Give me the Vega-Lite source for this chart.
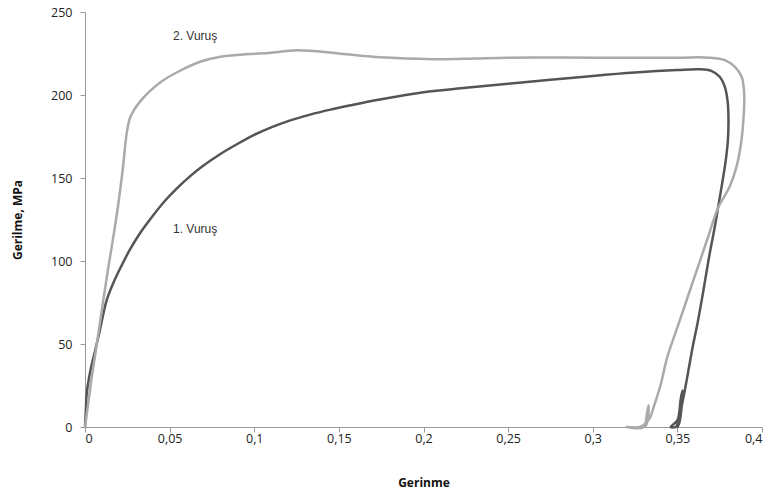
{
  "$schema": "https://vega.github.io/schema/vega-lite/v6.json",
  "width": 677,
  "height": 415,
  "autosize": {"type": "none"},
  "padding": {"left": 85, "top": 12, "right": 14, "bottom": 72},
  "background": "white",
  "config": {"view": {"stroke": null}, "font": "Open Sans"},
  "datasets": {
    "curves": [
      {"s": "1", "i": 1, "x": 0, "y": 0},
      {"s": "1", "i": 2, "x": 0.0005, "y": 10},
      {"s": "1", "i": 3, "x": 0.001, "y": 20},
      {"s": "1", "i": 4, "x": 0.003, "y": 33},
      {"s": "1", "i": 5, "x": 0.006, "y": 46},
      {"s": "1", "i": 6, "x": 0.0085, "y": 57},
      {"s": "1", "i": 7, "x": 0.0106, "y": 67},
      {"s": "1", "i": 8, "x": 0.013, "y": 77},
      {"s": "1", "i": 9, "x": 0.0177, "y": 89},
      {"s": "1", "i": 10, "x": 0.022, "y": 98},
      {"s": "1", "i": 11, "x": 0.0266, "y": 107},
      {"s": "1", "i": 12, "x": 0.032, "y": 116},
      {"s": "1", "i": 13, "x": 0.0384, "y": 125},
      {"s": "1", "i": 14, "x": 0.047, "y": 136},
      {"s": "1", "i": 15, "x": 0.054, "y": 143.5},
      {"s": "1", "i": 16, "x": 0.062, "y": 151},
      {"s": "1", "i": 17, "x": 0.07, "y": 157.5},
      {"s": "1", "i": 18, "x": 0.08, "y": 164.5},
      {"s": "1", "i": 19, "x": 0.09, "y": 170.5},
      {"s": "1", "i": 20, "x": 0.1, "y": 176},
      {"s": "1", "i": 21, "x": 0.11, "y": 180.5},
      {"s": "1", "i": 22, "x": 0.12, "y": 184.3},
      {"s": "1", "i": 23, "x": 0.133, "y": 188.2},
      {"s": "1", "i": 24, "x": 0.145, "y": 191.2},
      {"s": "1", "i": 25, "x": 0.157, "y": 193.8},
      {"s": "1", "i": 26, "x": 0.175, "y": 197.4},
      {"s": "1", "i": 27, "x": 0.2, "y": 201.6},
      {"s": "1", "i": 28, "x": 0.225, "y": 204.3},
      {"s": "1", "i": 29, "x": 0.25, "y": 206.8},
      {"s": "1", "i": 30, "x": 0.275, "y": 209.2},
      {"s": "1", "i": 31, "x": 0.3, "y": 211.5},
      {"s": "1", "i": 32, "x": 0.325, "y": 213.5},
      {"s": "1", "i": 33, "x": 0.35, "y": 215},
      {"s": "1", "i": 34, "x": 0.363, "y": 215.5},
      {"s": "1", "i": 35, "x": 0.37, "y": 214.5},
      {"s": "1", "i": 36, "x": 0.375, "y": 211},
      {"s": "1", "i": 37, "x": 0.378, "y": 205},
      {"s": "1", "i": 38, "x": 0.3797, "y": 196},
      {"s": "1", "i": 39, "x": 0.3802, "y": 185},
      {"s": "1", "i": 40, "x": 0.3798, "y": 172},
      {"s": "1", "i": 41, "x": 0.3785, "y": 160},
      {"s": "1", "i": 42, "x": 0.3765, "y": 147},
      {"s": "1", "i": 43, "x": 0.374, "y": 132},
      {"s": "1", "i": 44, "x": 0.372, "y": 120},
      {"s": "1", "i": 45, "x": 0.369, "y": 104},
      {"s": "1", "i": 46, "x": 0.365, "y": 80},
      {"s": "1", "i": 47, "x": 0.362, "y": 63},
      {"s": "1", "i": 48, "x": 0.359, "y": 48},
      {"s": "1", "i": 49, "x": 0.356, "y": 31},
      {"s": "1", "i": 50, "x": 0.354, "y": 20},
      {"s": "1", "i": 51, "x": 0.352, "y": 10},
      {"s": "1", "i": 52, "x": 0.3505, "y": 3},
      {"s": "1", "i": 53, "x": 0.349, "y": 0},
      {"s": "1", "i": 54, "x": 0.346, "y": 0},
      {"s": "1", "i": 55, "x": 0.35, "y": 4},
      {"s": "1", "i": 56, "x": 0.352, "y": 17},
      {"s": "1", "i": 57, "x": 0.353, "y": 22},
      {"s": "1", "i": 58, "x": 0.3525, "y": 12},
      {"s": "1", "i": 59, "x": 0.351, "y": 2},
      {"s": "1", "i": 60, "x": 0.35, "y": 0},
      {"s": "2", "i": 1, "x": 0, "y": 0},
      {"s": "2", "i": 2, "x": 0.002, "y": 15},
      {"s": "2", "i": 3, "x": 0.004, "y": 30},
      {"s": "2", "i": 4, "x": 0.007, "y": 50},
      {"s": "2", "i": 5, "x": 0.0106, "y": 75},
      {"s": "2", "i": 6, "x": 0.0136, "y": 95},
      {"s": "2", "i": 7, "x": 0.0165, "y": 113},
      {"s": "2", "i": 8, "x": 0.0195, "y": 133},
      {"s": "2", "i": 9, "x": 0.0225, "y": 157},
      {"s": "2", "i": 10, "x": 0.0245, "y": 176},
      {"s": "2", "i": 11, "x": 0.0265, "y": 186},
      {"s": "2", "i": 12, "x": 0.029, "y": 191},
      {"s": "2", "i": 13, "x": 0.0325, "y": 196},
      {"s": "2", "i": 14, "x": 0.038, "y": 202},
      {"s": "2", "i": 15, "x": 0.045, "y": 208},
      {"s": "2", "i": 16, "x": 0.055, "y": 214},
      {"s": "2", "i": 17, "x": 0.068, "y": 220},
      {"s": "2", "i": 18, "x": 0.08, "y": 223},
      {"s": "2", "i": 19, "x": 0.095, "y": 224.5},
      {"s": "2", "i": 20, "x": 0.11, "y": 225.5},
      {"s": "2", "i": 21, "x": 0.125, "y": 227},
      {"s": "2", "i": 22, "x": 0.135, "y": 226.5},
      {"s": "2", "i": 23, "x": 0.15, "y": 225},
      {"s": "2", "i": 24, "x": 0.17, "y": 223},
      {"s": "2", "i": 25, "x": 0.19, "y": 222},
      {"s": "2", "i": 26, "x": 0.21, "y": 221.5},
      {"s": "2", "i": 27, "x": 0.23, "y": 222},
      {"s": "2", "i": 28, "x": 0.25, "y": 222.5},
      {"s": "2", "i": 29, "x": 0.3, "y": 222.5},
      {"s": "2", "i": 30, "x": 0.35, "y": 222.5},
      {"s": "2", "i": 31, "x": 0.369, "y": 222.5},
      {"s": "2", "i": 32, "x": 0.378, "y": 221},
      {"s": "2", "i": 33, "x": 0.384, "y": 217},
      {"s": "2", "i": 34, "x": 0.388, "y": 211},
      {"s": "2", "i": 35, "x": 0.3895, "y": 200},
      {"s": "2", "i": 36, "x": 0.389, "y": 185},
      {"s": "2", "i": 37, "x": 0.3875, "y": 170},
      {"s": "2", "i": 38, "x": 0.385, "y": 157},
      {"s": "2", "i": 39, "x": 0.381, "y": 145},
      {"s": "2", "i": 40, "x": 0.374, "y": 132},
      {"s": "2", "i": 41, "x": 0.368, "y": 114},
      {"s": "2", "i": 42, "x": 0.362, "y": 96},
      {"s": "2", "i": 43, "x": 0.356, "y": 78},
      {"s": "2", "i": 44, "x": 0.35, "y": 60},
      {"s": "2", "i": 45, "x": 0.344, "y": 42},
      {"s": "2", "i": 46, "x": 0.34, "y": 25},
      {"s": "2", "i": 47, "x": 0.336, "y": 12},
      {"s": "2", "i": 48, "x": 0.334, "y": 6},
      {"s": "2", "i": 49, "x": 0.331, "y": 2},
      {"s": "2", "i": 50, "x": 0.328, "y": 0},
      {"s": "2", "i": 51, "x": 0.32, "y": 0},
      {"s": "2", "i": 52, "x": 0.33, "y": 0},
      {"s": "2", "i": 53, "x": 0.332, "y": 8},
      {"s": "2", "i": 54, "x": 0.333, "y": 13},
      {"s": "2", "i": 55, "x": 0.3325, "y": 4},
      {"s": "2", "i": 56, "x": 0.331, "y": 0}
    ],
    "labels": [
      {"x": 0.052, "y": 235.5, "t": "2. Vuruş"},
      {"x": 0.052, "y": 119.5, "t": "1. Vuruş"}
    ]
  },
  "layer": [
    {
      "data": {"name": "curves"},
      "mark": {"type": "line", "strokeWidth": 2.5, "strokeCap": "round", "strokeJoin": "round", "interpolate": "catmull-rom"},
      "encoding": {
        "x": {
          "field": "x", "type": "quantitative",
          "scale": {"domain": [0, 0.4], "nice": false, "zero": false},
          "axis": {
            "title": "Gerinme", "values": [0, 0.05, 0.1, 0.15, 0.2, 0.25, 0.3, 0.35, 0.4],
            "labelExpr": "replace(format(datum.value, '~g'), '.', ',')",
            "grid": false, "domainColor": "#999999", "tickColor": "#999999", "tickSize": 5,
            "labelFont": "Open Sans", "labelFontSize": 12.5, "labelColor": "#222",
            "labelPadding": 0, "titleFont": "Open Sans", "titleFontSize": 12, "titleFontWeight": "bold",
            "titleColor": "#111", "titlePadding": 33
          }
        },
        "y": {
          "field": "y", "type": "quantitative",
          "scale": {"domain": [0, 250], "nice": false},
          "axis": {
            "title": "Gerilme, MPa", "values": [0, 50, 100, 150, 200, 250],
            "grid": false, "domainColor": "#999999", "tickColor": "#999999", "tickSize": 5,
            "labelFont": "Open Sans", "labelFontSize": 12.5, "labelColor": "#222",
            "labelPadding": 8, "titleFont": "Open Sans", "titleFontSize": 12, "titleFontWeight": "bold",
            "titleColor": "#111", "titlePadding": 26
          }
        },
        "color": {
          "field": "s", "type": "nominal",
          "scale": {"domain": ["1", "2"], "range": ["#555555", "#aaaaaa"]},
          "legend": null
        },
        "order": {"field": "i", "type": "quantitative"}
      }
    },
    {
      "data": {"name": "labels"},
      "mark": {"type": "text", "align": "left", "baseline": "middle", "font": "Liberation Sans", "fontSize": 12, "color": "#333"},
      "encoding": {
        "x": {"field": "x", "type": "quantitative"},
        "y": {"field": "y", "type": "quantitative"},
        "text": {"field": "t"}
      }
    }
  ]
}
